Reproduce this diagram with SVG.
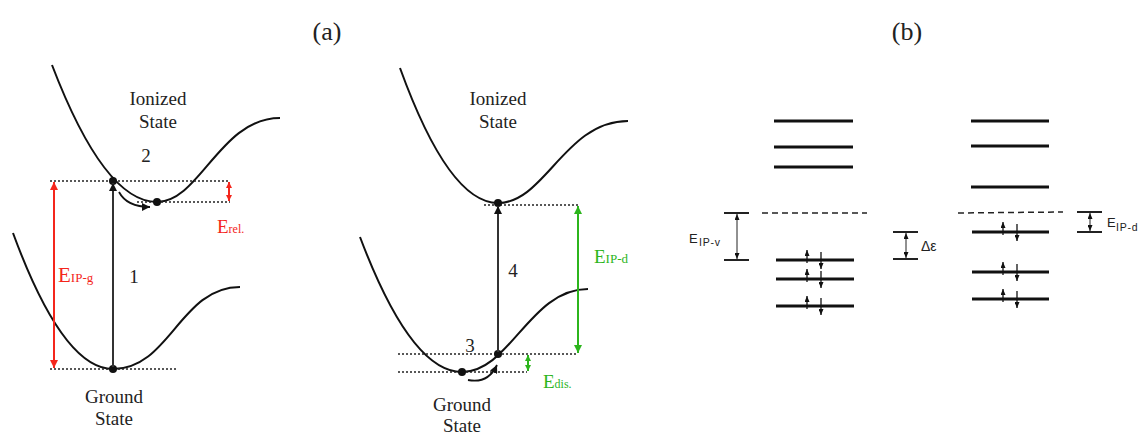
<svg xmlns="http://www.w3.org/2000/svg" width="1142" height="434" viewBox="0 0 1142 434">
<style>
.serif{font-family:"Liberation Serif","DejaVu Serif",serif;fill:#222}
.sans{font-family:"Liberation Sans","DejaVu Sans",sans-serif;fill:#222}
.curve{fill:none;stroke:#111;stroke-width:2}
.dot{fill:#111}
.dotted{stroke:#222;stroke-width:1.6;stroke-dasharray:2,2;fill:none}
.level{stroke:#111;stroke-width:3;fill:none}
.thin{stroke:#222;stroke-width:2;fill:none}
.dash{stroke:#222;stroke-width:1.5;stroke-dasharray:6,4;fill:none}
</style>
<defs>
<marker id="ahR" viewBox="0 0 8 8" refX="8" refY="4" markerWidth="8" markerHeight="8" markerUnits="userSpaceOnUse" orient="auto-start-reverse"><path d="M0,0 L8,4 L0,8 z" fill="#f4261c"/></marker>
<marker id="ahRs" viewBox="0 0 8 8" refX="8" refY="4" markerWidth="6" markerHeight="7" markerUnits="userSpaceOnUse" orient="auto-start-reverse"><path d="M0,0 L8,4 L0,8 z" fill="#f4261c"/></marker>
<marker id="ahG" viewBox="0 0 8 8" refX="8" refY="4" markerWidth="8" markerHeight="8" markerUnits="userSpaceOnUse" orient="auto-start-reverse"><path d="M0,0 L8,4 L0,8 z" fill="#2cb51c"/></marker>
<marker id="ahGs" viewBox="0 0 8 8" refX="8" refY="4" markerWidth="6" markerHeight="7" markerUnits="userSpaceOnUse" orient="auto-start-reverse"><path d="M0,0 L8,4 L0,8 z" fill="#2cb51c"/></marker>
<marker id="ahK" viewBox="0 0 8 8" refX="8" refY="4" markerWidth="8" markerHeight="8" markerUnits="userSpaceOnUse" orient="auto-start-reverse"><path d="M0,0 L8,4 L0,8 z" fill="#111"/></marker>
<marker id="ahS" viewBox="0 0 6 5" refX="6" refY="2.5" markerWidth="6" markerHeight="5" markerUnits="userSpaceOnUse" orient="auto-start-reverse"><path d="M0,0 L6,2.5 L0,5 z" fill="#111"/></marker>
</defs>
<rect width="1142" height="434" fill="#fff"/>

<text class="serif" x="327" y="40" font-size="26" text-anchor="middle">(a)</text>
<text class="serif" x="907" y="40" font-size="26" text-anchor="middle">(b)</text>

<g id="panel-a-left">
  <path class="curve" d="M52,65 Q104.5,202 157,202 C200,202 220,118 280,118"/>
  <path class="curve" d="M13,233 Q63,369 113,369 C170,369 180,287 240,287"/>
  <line class="dotted" x1="50" y1="181" x2="230" y2="181"/>
  <line class="dotted" x1="137" y1="202" x2="230" y2="202"/>
  <line class="dotted" x1="50" y1="369" x2="178" y2="369"/>
  <circle class="dot" cx="113" cy="181" r="4"/>
  <circle class="dot" cx="157" cy="202" r="4"/>
  <circle class="dot" cx="113" cy="369" r="4"/>
  <text class="serif" x="158" y="105" font-size="19" text-anchor="middle">Ionized</text>
  <text class="serif" x="158" y="128" font-size="19" text-anchor="middle">State</text>
  <text class="serif" x="146" y="162" font-size="19" text-anchor="middle">2</text>
  <text class="serif" x="134" y="283" font-size="19" text-anchor="middle">1</text>
  <text class="serif" x="114" y="403" font-size="19" text-anchor="middle">Ground</text>
  <text class="serif" x="114" y="425" font-size="19" text-anchor="middle">State</text>
  <text class="serif" x="58" y="282" font-size="21" style="fill:#f4261c">E<tspan font-size="13">IP-g</tspan></text>
  <text class="serif" x="217" y="233" font-size="19" style="fill:#f4261c">E<tspan font-size="12">rel.</tspan></text>
</g>

<g id="panel-a-right">
  <path class="curve" d="M400,68 Q449,203 498,203 C545,203 565,121 628,121"/>
  <path class="curve" d="M360,237 Q411,372 462,372 C510,372 530,289 588,289"/>
  <line class="dotted" x1="484" y1="205" x2="578" y2="205"/>
  <line class="dotted" x1="398" y1="354" x2="578" y2="354"/>
  <line class="dotted" x1="398" y1="372" x2="527" y2="372"/>
  <circle class="dot" cx="498" cy="203" r="4"/>
  <circle class="dot" cx="498" cy="354" r="4"/>
  <circle class="dot" cx="462" cy="372" r="4"/>
  <text class="serif" x="498" y="105" font-size="19" text-anchor="middle">Ionized</text>
  <text class="serif" x="498" y="128" font-size="19" text-anchor="middle">State</text>
  <text class="serif" x="513" y="277" font-size="19" text-anchor="middle">4</text>
  <text class="serif" x="470" y="352" font-size="19" text-anchor="middle">3</text>
  <text class="serif" x="462" y="411" font-size="19" text-anchor="middle">Ground</text>
  <text class="serif" x="462" y="432" font-size="19" text-anchor="middle">State</text>
  <text class="serif" x="594" y="263" font-size="19" style="fill:#2cb51c">E<tspan font-size="13">IP-d</tspan></text>
  <text class="serif" x="543" y="388" font-size="19" style="fill:#2cb51c">E<tspan font-size="12">dis.</tspan></text>
</g>

<g id="panel-b">
  <g id="levels-left">
    <line class="level" x1="774" y1="121" x2="853" y2="121"/>
    <line class="level" x1="774" y1="147" x2="853" y2="147"/>
    <line class="level" x1="774" y1="167" x2="853" y2="167"/>
    <line class="dash" x1="762" y1="213" x2="867" y2="213"/>
    <line class="level" x1="776" y1="260" x2="854" y2="260"/>
    <line class="level" x1="776" y1="279" x2="854" y2="279"/>
    <line class="level" x1="776" y1="306" x2="854" y2="306"/>
  </g>
  <g id="levels-right">
    <line class="level" x1="971" y1="121" x2="1049" y2="121"/>
    <line class="level" x1="971" y1="146" x2="1049" y2="146"/>
    <line class="level" x1="971" y1="187" x2="1049" y2="187"/>
    <line class="dash" x1="958" y1="213" x2="1063" y2="212"/>
    <line class="level" x1="972" y1="232" x2="1049" y2="232"/>
    <line class="level" x1="972" y1="272" x2="1049" y2="272"/>
    <line class="level" x1="972" y1="299" x2="1049" y2="299"/>
  </g>
  <g id="brackets">
    <line class="thin" x1="724" y1="213" x2="749" y2="213"/>
    <line class="thin" x1="724" y1="260" x2="749" y2="260"/>
    <line class="thin" x1="893" y1="232" x2="918" y2="232"/>
    <line class="thin" x1="893" y1="259" x2="918" y2="259"/>
    <line class="thin" x1="1077" y1="212" x2="1102" y2="212"/>
    <line class="thin" x1="1077" y1="232" x2="1102" y2="232"/>
  </g>
  <text class="sans" x="689" y="243" font-size="13">E</text>
  <text class="sans" x="699" y="246" font-size="10.5" letter-spacing="0.8">IP-v</text>
  <text class="sans" x="921" y="251" font-size="14">Δε</text>
  <text class="sans" x="1107" y="227" font-size="13">E</text>
  <text class="sans" x="1116" y="231" font-size="10.5" letter-spacing="0.8">IP-d</text>
</g>

<g id="connectors">
  <line x1="113" y1="367" x2="113" y2="183" stroke="#333" stroke-width="2" marker-end="url(#ahK)"/>
  <line x1="498" y1="352" x2="498" y2="206" stroke="#333" stroke-width="2" marker-end="url(#ahK)"/>
  <path d="M119,192 Q127,207 150,207" fill="none" stroke="#111" stroke-width="1.8" marker-end="url(#ahK)"/>
  <path d="M468,380 Q488,384 497,365" fill="none" stroke="#111" stroke-width="1.8" marker-end="url(#ahK)"/>
  <line x1="54" y1="182" x2="54" y2="368" stroke="#f4261c" stroke-width="2" marker-start="url(#ahR)" marker-end="url(#ahR)"/>
  <line x1="229" y1="182" x2="229" y2="201" stroke="#f4261c" stroke-width="2" marker-start="url(#ahRs)" marker-end="url(#ahRs)"/>
  <line x1="578" y1="206" x2="578" y2="353" stroke="#2cb51c" stroke-width="2" marker-start="url(#ahG)" marker-end="url(#ahG)"/>
  <line x1="528" y1="355" x2="528" y2="371" stroke="#2cb51c" stroke-width="2" marker-start="url(#ahGs)" marker-end="url(#ahGs)"/>
  <line x1="737" y1="214" x2="737" y2="259" stroke="#222" stroke-width="1" marker-start="url(#ahS)" marker-end="url(#ahS)"/>
  <line x1="906" y1="233" x2="906" y2="258" stroke="#222" stroke-width="1" marker-start="url(#ahS)" marker-end="url(#ahS)"/>
  <line x1="1090" y1="213" x2="1090" y2="231" stroke="#222" stroke-width="1" marker-start="url(#ahS)" marker-end="url(#ahS)"/>
  <g id="spins" stroke="#111" stroke-width="1.3">
    <line x1="807" y1="263" x2="807" y2="250" marker-end="url(#ahS)"/>
    <line x1="821" y1="252" x2="821" y2="269" marker-end="url(#ahS)"/>
    <line x1="807" y1="282" x2="807" y2="269" marker-end="url(#ahS)"/>
    <line x1="821" y1="271" x2="821" y2="288" marker-end="url(#ahS)"/>
    <line x1="807" y1="309" x2="807" y2="296" marker-end="url(#ahS)"/>
    <line x1="821" y1="298" x2="821" y2="315" marker-end="url(#ahS)"/>
    <line x1="1003" y1="235" x2="1003" y2="222" marker-end="url(#ahS)"/>
    <line x1="1017" y1="224" x2="1017" y2="241" marker-end="url(#ahS)"/>
    <line x1="1003" y1="275" x2="1003" y2="262" marker-end="url(#ahS)"/>
    <line x1="1017" y1="264" x2="1017" y2="281" marker-end="url(#ahS)"/>
    <line x1="1003" y1="302" x2="1003" y2="289" marker-end="url(#ahS)"/>
    <line x1="1017" y1="291" x2="1017" y2="308" marker-end="url(#ahS)"/>
  </g>
</g>
</svg>
